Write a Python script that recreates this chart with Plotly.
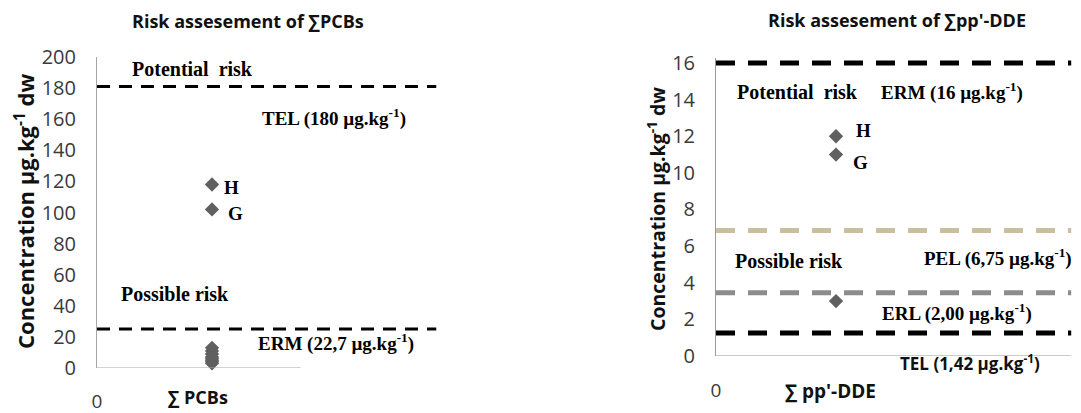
import plotly.graph_objects as go

# page body has an 8px margin: the figure starts at (8, 8) in the window
OFF = 8
W, H = 1081 - OFF, 413 - OFF

# ---------------- data ----------------
pcb_x_label = "∑ PCBs"
pcb_H = 118
pcb_G = 102
pcb_others = [13, 11, 9, 7, 6, 5, 4, 3]
pcb_thresholds = [181, 25]          # drawn levels (TEL, ERM)
pcb_threshold_names = ["TEL (180 µg.kg<sup>-1</sup>)", "ERM (22,7 µg.kg<sup>-1</sup>)"]
pcb_ticks = [0, 20, 40, 60, 80, 100, 120, 140, 160, 180, 200]

dde_x_label = "∑ pp'-DDE"
dde_H = 12.0
dde_G = 11.0
dde_others = [3.0]
dde_thresholds = [16, 6.85, 3.45, 1.25]   # ERM, PEL, ERL, TEL drawn levels
dde_threshold_colors = ["#000000", "#C9BF9D", "#8C8C8C", "#000000"]
dde_ticks = [0, 2, 4, 6, 8, 10, 12, 14, 16]

# ---------------- helpers (screen px -> paper) ----------------
def px(x):
    return min(1.0, max(0.0, (x - OFF) / W))

def py(y):
    return min(1.0, max(0.0, 1 - (y - OFF) / H))

SANS = "Open Sans"
SERIF = "Liberation Serif"
MARK = "#606060"
AX = "#A6A6A6"

fig = go.Figure()

# ---- left chart ----
for lvl in pcb_thresholds:
    fig.add_trace(go.Scatter(x=[0, 2.95], y=[lvl, lvl], mode="lines",
                             line=dict(color="black", width=3, dash="13px,9px"),
                             xaxis="x", yaxis="y", hoverinfo="skip"))
fig.add_trace(go.Scatter(x=[1] * (2 + len(pcb_others)), y=[pcb_H, pcb_G] + pcb_others,
                         mode="markers", marker=dict(symbol="diamond", size=11, color=MARK),
                         xaxis="x", yaxis="y", cliponaxis=False))

# ---- right chart ----
for lvl, col in zip(dde_thresholds, dde_threshold_colors):
    fig.add_trace(go.Scatter(x=[0, 2.96], y=[lvl, lvl], mode="lines",
                             line=dict(color=col, width=5, dash="19px,13px"),
                             xaxis="x2", yaxis="y2", hoverinfo="skip"))
fig.add_trace(go.Scatter(x=[1] * (2 + len(dde_others)), y=[dde_H, dde_G] + dde_others,
                         mode="markers", marker=dict(symbol="diamond", size=11, color=MARK),
                         xaxis="x2", yaxis="y2", cliponaxis=False))

tickfont = dict(family=SANS, size=20, color="#3a3a3a")
xtickfont = dict(family=SANS, size=19, color="#3a3a3a")
hidden = "rgba(0,0,0,0)"

fig.update_layout(
    template="none",
    width=W, height=H, margin=dict(l=0, r=0, t=0, b=0, autoexpand=False),
    paper_bgcolor="white", plot_bgcolor="white", showlegend=False,
    xaxis=dict(domain=[px(97), px(442)], range=[0, 3], showgrid=False, zeroline=False,
               showline=False, tickvals=[0], ticktext=["0"], tickfont=xtickfont,
               ticks="outside", ticklen=16, tickcolor=hidden, automargin=False, anchor="y"),
    yaxis=dict(domain=[py(368), py(57)], range=[0, 200], showgrid=False, zeroline=False,
               showline=True, linecolor=AX, linewidth=1, tickvals=pcb_ticks,
               tickfont=tickfont, ticks="outside", ticklen=16, tickcolor=hidden,
               automargin=False, anchor="x"),
    xaxis2=dict(domain=[px(716), px(1076)], range=[0, 3], showgrid=False, zeroline=False,
                showline=False, tickvals=[0], ticktext=["0"], tickfont=xtickfont,
                ticks="outside", ticklen=17, tickcolor=hidden, anchor="y2", automargin=False),
    yaxis2=dict(domain=[py(356), py(58.4)], range=[0, 16.25], showgrid=False, zeroline=False,
                showline=True, linecolor="#999999", linewidth=1, tickvals=dde_ticks,
                tickfont=tickfont, ticks="outside", ticklen=16, tickcolor=hidden,
                anchor="x2", automargin=False),
)

# x-axis base lines
fig.add_shape(type="line", xref="x", yref="y", x0=0, x1=1.77, y0=0, y1=0,
              line=dict(color=AX, width=1))
fig.add_shape(type="line", xref="x2", yref="y2", x0=0, x1=2.96, y0=0, y1=0,
              line=dict(color="#999999", width=1))

def ann(text, x, y, family, size, color="black", angle=0):
    fig.add_annotation(text=text, x=px(x), y=py(y), xref="paper", yref="paper",
                       xanchor="center", yanchor="middle", showarrow=False,
                       textangle=angle, font=dict(family=family, size=size, color=color))

# titles
ann("<b>Risk assesement of ∑PCBs</b>", 248, 21, SANS, 18, "#111")
ann("<b>Risk assesement of ∑pp'-DDE</b>", 897, 20, SANS, 18, "#111")

# y titles
ann("<b>Concentration µg.kg<sup>-1</sup> dw</b>", 25, 212, SANS, 22, "#111", -90)
ann("<b>Concentration µg.kg<sup>-1</sup> dw</b>", 657, 209, SANS, 19.5, "#111", -90)

# x titles
ann("<b>" + pcb_x_label + "</b>", 198, 397, SANS, 18, "#111")
ann("<b>" + dde_x_label + "</b>", 830, 391, SANS, 19, "#111")

# left zone labels
ann("<b>Potential\u00a0 risk</b>", 192, 69, SERIF, 20)
ann("<b>" + pcb_threshold_names[0] + "</b>", 334, 117, SERIF, 19)
ann("<b>Possible risk</b>", 175, 294, SERIF, 20)
ann("<b>" + pcb_threshold_names[1] + "</b>", 336, 342, SERIF, 19)

# right zone labels
ann("<b>Potential\u00a0 risk</b>", 797, 92, SERIF, 20)
ann("<b>ERM (16 µg.kg<sup>-1</sup>)</b>", 952, 92, SERIF, 19)
ann("<b>PEL (6,75 µg.kg<sup>-1</sup>)</b>", 998, 257, SERIF, 19)
ann("<b>Possible risk</b>", 789, 261, SERIF, 20)
ann("<b>ERL (2,00 µg.kg<sup>-1</sup>)</b>", 957, 312, SERIF, 19)
ann("<b>TEL (1,42 µg.kg<sup>-1</sup>)</b>", 970, 362, SANS, 17, "#111")

# point labels
def plabel(text, x, y, xa, ya, xs, ys):
    fig.add_annotation(text="<b>" + text + "</b>", x=x, y=y, xref=xa, yref=ya,
                       showarrow=False, xshift=xs, yshift=ys,
                       font=dict(family=SERIF, size=19, color="black"))

plabel("H", 1, pcb_H, "x", "y", 19, -3)
plabel("G", 1, pcb_G, "x", "y", 23, -4)
plabel("H", 1, dde_H, "x2", "y2", 27, 6)
plabel("G", 1, dde_G, "x2", "y2", 24, -8)

fig.write_html("out.html")
